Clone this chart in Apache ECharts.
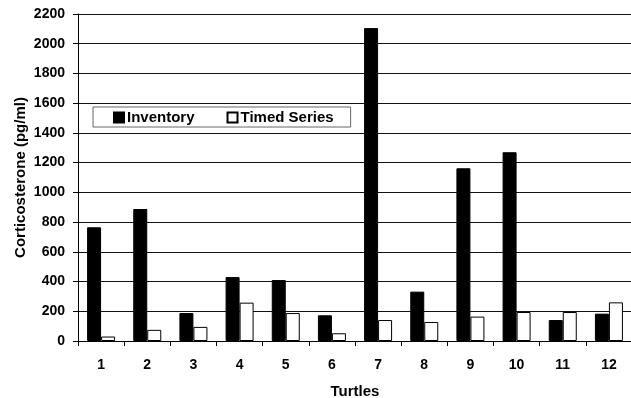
<!DOCTYPE html>
<html><head><meta charset="utf-8">
<script src="https://cdn.jsdelivr.net/npm/echarts@6/dist/echarts.min.js"></script>
<style>html,body{margin:0;padding:0;background:#fff}#c{width:631px;height:398px}</style>
</head><body><div id="c"></div>
<script>
const categories = ['1','2','3','4','5','6','7','8','9','10','11','12'];
const inventory = [765, 888, 188, 430, 410, 173, 2105, 332, 1162, 1270, 141, 184];
const timedSeries = [30, 75, 95, 258, 188, 52, 141, 128, 164, 195, 195, 260];
const yTicks = [0, 200, 400, 600, 800, 1000, 1200, 1400, 1600, 1800, 2000, 2200];

const font = 'Liberation Sans, Arial, sans-serif';
const chart = echarts.init(document.getElementById('c'), null, {renderer: 'canvas'});
chart.setOption({
  animation: false,
  backgroundColor: '#fff',
  grid: {left: 78, right: -1, top: 14, bottom: 57, containLabel: false, outerBoundsMode: 'none'},
  legend: {
    left: 93, top: 107,
    itemGap: 32, itemWidth: 10, itemHeight: 10,
    padding: [3, 17, 2, 20],
    borderColor: '#666', borderWidth: 1, backgroundColor: '#fff',
    textStyle: {fontFamily: font, fontWeight: 'bold', fontSize: 15, color: '#000', padding: [0,0,0,-2]},
    data: [{name: 'Inventory', icon: 'rect'}, {name: 'Timed Series', icon: 'rect'}]
  },
  xAxis: {
    type: 'category', data: categories,
    name: 'Turtles', nameLocation: 'middle', nameGap: 43, nameMoveOverlap: false,
    nameTextStyle: {fontFamily: font, fontWeight: 'bold', fontSize: 15, color: '#000'},
    axisLine: {lineStyle: {color: '#000', width: 1}},
    axisTick: {show: true, length: 5, lineStyle: {color: '#000'}},
    axisLabel: {fontFamily: font, fontWeight: 'bold', fontSize: 14, color: '#000', margin: 17}
  },
  yAxis: {
    type: 'value', min: 0, max: 2200, interval: 200,
    name: 'Corticosterone (pg/ml)', nameLocation: 'middle', nameGap: 50, nameRotate: 90,
    nameMoveOverlap: false,
    nameTextStyle: {fontFamily: font, fontWeight: 'bold', fontSize: 15, color: '#000'},
    axisLine: {show: true, lineStyle: {color: '#000', width: 1}},
    axisTick: {show: true, length: 5, lineStyle: {color: '#000'}},
    axisLabel: {fontFamily: font, fontWeight: 'bold', fontSize: 14, color: '#000', margin: 13,
      formatter: v => yTicks.includes(v) ? String(v) : ''},
    splitLine: {show: true, lineStyle: {color: '#111', width: 1}}
  },
  series: [
    {name: 'Inventory', type: 'bar', data: inventory, barWidth: 14, barGap: '0%',
     itemStyle: {color: '#000', borderColor: '#000', borderWidth: 1}},
    {name: 'Timed Series', type: 'bar', data: timedSeries, barWidth: 14, barGap: '0%',
     itemStyle: {color: '#fff', borderColor: '#000', borderWidth: 1}}
  ]
});
</script></body></html>
